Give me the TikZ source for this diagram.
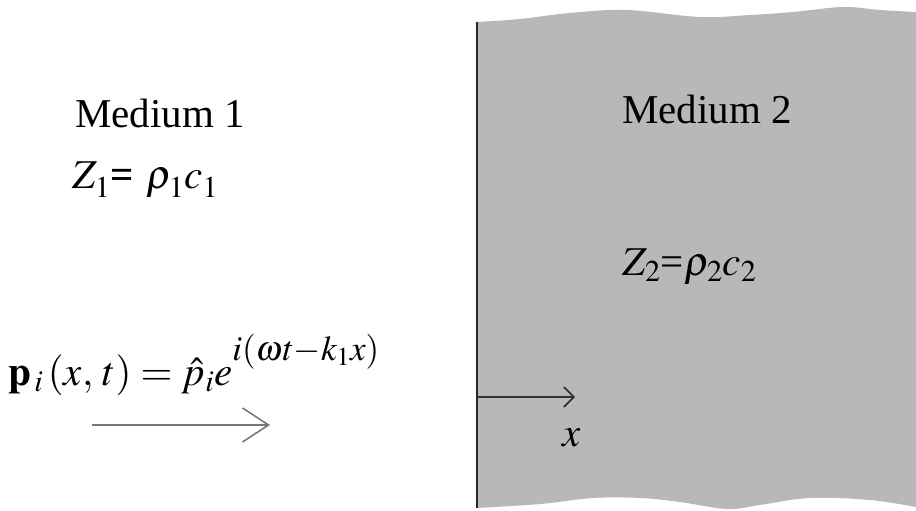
\documentclass[tikz,border=0pt]{standalone}
\usepackage{mathptmx}
\usepackage{fontspec}
\setmainfont{Liberation Serif}
\usetikzlibrary{arrows.meta}
\definecolor{medgray}{RGB}{184,184,184}
\definecolor{arrgray}{RGB}{120,120,120}
\begin{document}
\begin{tikzpicture}[x=1pt,y=-1pt,
  lbl/.style={anchor=base west,inner sep=0pt,font=\fontsize{41}{43}\selectfont},
  wavearrow/.style={draw=arrgray,line width=1.6pt,-{Straight Barb[length=26pt,width=34pt,line width=1.6pt]}},
  axarrow/.style={draw=black!80,line width=1.8pt,-{Straight Barb[length=10pt,width=20pt,line width=1.6pt]}}]
\useasboundingbox (0,0) rectangle (916,511);
% medium 2 block
\fill[medgray] plot[smooth,tension=0.6] coordinates {(477,22)(520,19)(570,13)(627,10)(700,17)(750,15)(793,12)(843,7)(880,10)(916,12)}
  -- (916,507)
  -- plot[smooth,tension=0.6] coordinates {(916,507)(870,500)(810,498)(760,505)(727,509)(680,502)(640,498)(593,498)(540,504)(477,508)} -- cycle;
\draw[black!85,line width=2pt] (477,22) -- (477,508);
% texts
\node[lbl] (m1) at (75,127) {Medium 1};
\node[lbl] (z1) at (72,188) {$Z_{\raisebox{-0.08em}{$\scriptstyle 1$}}$\textbf{=}\hspace{0.3em}$\rho_{\raisebox{-0.08em}{$\scriptstyle 1$}}c_{\raisebox{-0.08em}{$\scriptstyle 1$}}$};
\node[lbl] (m2) at (622,123) {Medium 2};
\node[lbl] (z2) at (622,275) {$Z_2$=\hspace{0.02em}$\rho_2c_2$};
\node[lbl] (f) at (8,385) {$\mathbf{p}_{\,i}\,(x,\,t)=\hat{p}_i e$\raisebox{0.6em}{\fontsize{35}{35}\selectfont$i(\omega t{-}k_1x)$}};
\node[lbl] (xl) at (562,446) {$x$};
% arrows
\coordinate (wa) at (92,425);
\coordinate (wb) at (270,425);
\draw[wavearrow] (wa) -- (wb);
\coordinate (xa) at (478,397);
\coordinate (xb) at (575,397);
\draw[axarrow] (xa) -- (xb);
\end{tikzpicture}
\end{document}
